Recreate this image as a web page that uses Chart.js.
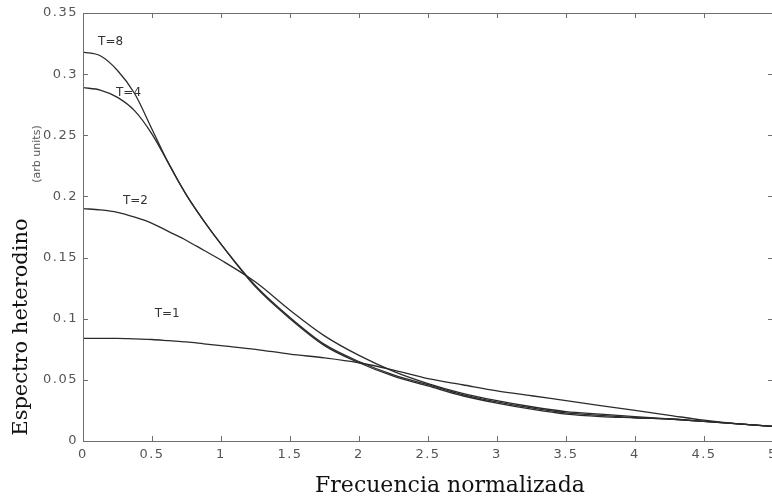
<!DOCTYPE html>
<html>
<head>
<meta charset="utf-8">
<script src="https://cdn.jsdelivr.net/npm/chart.js@4/dist/chart.umd.min.js"></script>
<style>
  body { margin: 0; background: #fff; overflow: hidden; }
  #wrap { width: 790px; height: 499px; }
  canvas { display: block; }
</style>
</head>
<body>
<div id="wrap"><canvas id="spectrum_chart" width="790" height="499"></canvas></div>
<script>
// data (finer steps near the peaks)
const freq = [0, 0.125, 0.25, 0.375, 0.5, 0.625, 0.75, 0.875, 1, 1.25, 1.5, 1.75, 2, 2.25, 2.5, 2.75, 3, 3.25, 3.5, 3.75, 4, 4.25, 4.5, 4.75, 5];

const t1_values = [0.084, 0.084, 0.084, 0.0835, 0.083, 0.082, 0.081, 0.0795, 0.078, 0.075, 0.071, 0.068, 0.064, 0.058, 0.051, 0.046, 0.041, 0.037, 0.033, 0.029, 0.025, 0.021, 0.017, 0.014, 0.012];
const t2_values = [0.190, 0.189, 0.187, 0.183, 0.178, 0.171, 0.164, 0.156, 0.148, 0.130, 0.107, 0.086, 0.070, 0.057, 0.047, 0.039, 0.033, 0.028, 0.024, 0.022, 0.020, 0.018, 0.016, 0.014, 0.012];
const t4_values = [0.289, 0.287, 0.281, 0.270, 0.251, 0.226, 0.201, 0.180, 0.161, 0.127, 0.101, 0.079, 0.065, 0.054, 0.046, 0.038, 0.032, 0.027, 0.023, 0.021, 0.019, 0.018, 0.016, 0.014, 0.012];
const t8_values = [0.318, 0.315, 0.303, 0.284, 0.255, 0.226, 0.201, 0.180, 0.161, 0.126, 0.100, 0.078, 0.064, 0.053, 0.045, 0.037, 0.031, 0.026, 0.022, 0.020, 0.019, 0.018, 0.016, 0.014, 0.012];

const series_names = ["T=1", "T=2", "T=4", "T=8"];
// where each curve label sits (data units)
const label_x = [0.61, 0.38, 0.33, 0.2];
const label_y = [0.104, 0.196, 0.285, 0.326];

const x_tick_values = [0, 0.5, 1, 1.5, 2, 2.5, 3, 3.5, 4, 4.5, 5];
const x_tick_labels = ["0", "0.5", "1", "1.5", "2", "2.5", "3", "3.5", "4", "4.5", "5"];
const y_tick_values = [0, 0.05, 0.1, 0.15, 0.2, 0.25, 0.3, 0.35];
const y_tick_labels = ["0", "0.05", "0.1", "0.15", "0.2", "0.25", "0.3", "0.35"];

const x_title = "Frecuencia normalizada";
const y_title = "Espectro heterodino";
const y_unit = "(arb units)";

const ctx = document.getElementById("spectrum_chart").getContext("2d");

function toPoints(values) {
    return values.map((v, i) => ({ x: freq[i], y: v }));
}

// wide tick labels like the scanned figure
const spacing_plugin = {
    id: "spacing",
    beforeDraw(chart) { chart.ctx.letterSpacing = "1.5px"; },
    afterDatasetsDraw(chart) { chart.ctx.letterSpacing = "0px"; },
};

// frame, inward ticks, curve labels and axis titles
const decor_plugin = {
    id: "decor",
    afterDraw(chart) {
        const c = chart.ctx;
        const a = chart.chartArea;
        const xs = chart.scales.x;
        const ys = chart.scales.y;
        c.save();
        c.letterSpacing = "0px";
        c.strokeStyle = "#6e6e6e";
        c.lineWidth = 1;
        c.strokeRect(Math.round(a.left) + 0.5, Math.round(a.top) + 0.5, a.right - a.left, a.bottom - a.top);

        c.beginPath();
        x_tick_values.forEach((v) => {
            const px = Math.round(xs.getPixelForValue(v)) + 0.5;
            c.moveTo(px, a.bottom); c.lineTo(px, a.bottom - 5);
            c.moveTo(px, a.top); c.lineTo(px, a.top + 5);
        });
        y_tick_values.forEach((v) => {
            const py = Math.round(ys.getPixelForValue(v)) + 0.5;
            c.moveTo(a.left, py); c.lineTo(a.left + 5, py);
            c.moveTo(a.right, py); c.lineTo(a.right - 5, py);
        });
        c.stroke();

        // T= labels
        c.fillStyle = "#333";
        c.font = "12px 'DejaVu Sans'";
        c.textAlign = "center";
        c.textBaseline = "middle";
        series_names.forEach((name, i) => {
            c.fillText(name, xs.getPixelForValue(label_x[i]), ys.getPixelForValue(label_y[i]));
        });

        // axis titles
        c.fillStyle = "#111";
        c.font = "22px 'DejaVu Serif'";
        c.fillText(x_title, 450, 486);

        c.save();
        c.font = "21px 'DejaVu Serif'";
        c.translate(22, 327);
        c.rotate(-Math.PI / 2);
        c.fillText(y_title, 0, 0);
        c.restore();

        c.save();
        c.fillStyle = "#555";
        c.font = "11px 'DejaVu Sans'";
        c.translate(37, 154);
        c.rotate(-Math.PI / 2);
        c.fillText(y_unit, 0, 0);
        c.restore();

        c.restore();
    },
};

const line_style = {
    borderColor: "#2b2b2b",
    borderWidth: 1.3,
    pointRadius: 0,
    fill: false,
    cubicInterpolationMode: "monotone",
};

const my_chart = new Chart(ctx, {
    type: "line",
    data: {
        datasets: [
            { label: series_names[0], data: toPoints(t1_values), ...line_style },
            { label: series_names[1], data: toPoints(t2_values), ...line_style },
            { label: series_names[2], data: toPoints(t4_values), ...line_style },
            { label: series_names[3], data: toPoints(t8_values), ...line_style },
        ],
    },
    options: {
        responsive: false,
        animation: false,
        layout: { padding: { top: 13, right: 17, left: 0, bottom: 0 } },
        plugins: {
            legend: { display: false },
            tooltip: { enabled: false },
        },
        scales: {
            x: {
                type: "linear",
                min: 0,
                max: 5,
                grid: { display: false, drawTicks: false },
                border: { display: false },
                afterBuildTicks: (scale) => {
                    scale.ticks = x_tick_values.map((v) => ({ value: v }));
                },
                afterFit: (scale) => { scale.height = 58; },
                ticks: {
                    padding: 6,
                    color: "#555",
                    font: { family: "'DejaVu Sans'", size: 13 },
                    maxRotation: 0,
                    callback: (v, i) => x_tick_labels[i],
                },
            },
            y: {
                type: "linear",
                min: 0,
                max: 0.35,
                grid: { display: false, drawTicks: false },
                border: { display: false },
                afterBuildTicks: (scale) => {
                    scale.ticks = y_tick_values.map((v) => ({ value: v }));
                },
                afterFit: (scale) => { scale.width = 83; },
                ticks: {
                    padding: 5,
                    color: "#555",
                    font: { family: "'DejaVu Sans'", size: 13 },
                    callback: (v, i) => y_tick_labels[i],
                },
            },
        },
    },
    plugins: [spacing_plugin, decor_plugin],
});
</script>
</body>
</html>
